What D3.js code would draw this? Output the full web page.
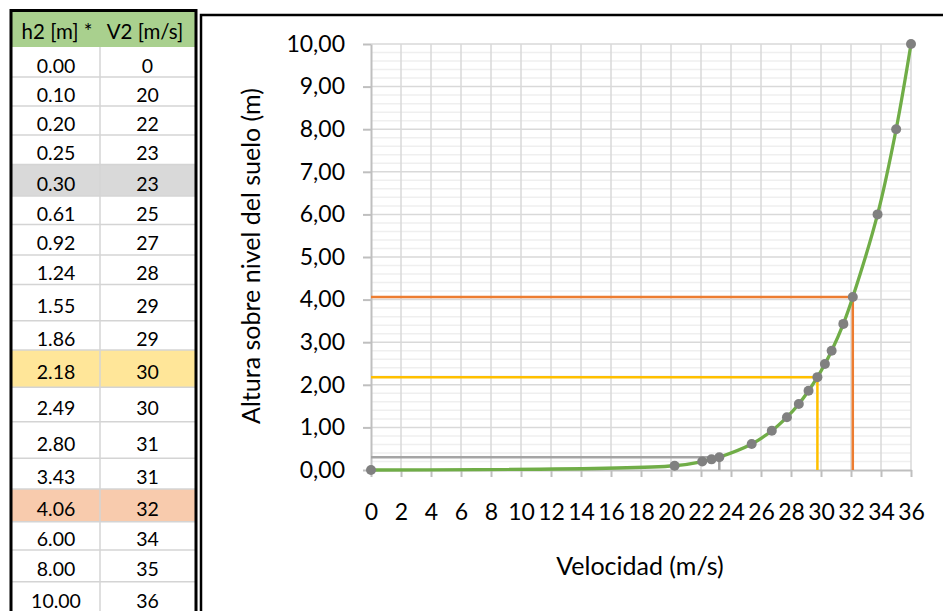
<!DOCTYPE html>
<html>
<head>
<meta charset="utf-8">
<script src="https://cdn.jsdelivr.net/npm/d3@7"></script>
<style>
body { margin: 0; background: #fff; }
text { font-family: Lato, "Open Sans", sans-serif; fill: #000; }
</style>
</head>
<body>
<div id="chart"></div>
<script>
var heights = [0, 0.10, 0.20, 0.25, 0.30, 0.61, 0.92, 1.24, 1.55, 1.86, 2.18, 2.49, 2.80, 3.43, 4.06, 6.00, 8.00, 10.00];
var speeds = [0, 20.24, 22.08, 22.70, 23.22, 25.38, 26.72, 27.73, 28.52, 29.17, 29.76, 30.26, 30.71, 31.49, 32.12, 33.77, 35.01, 36.00];
var tableSpeeds = [0, 20, 22, 23, 23, 25, 27, 28, 29, 29, 30, 30, 31, 31, 32, 34, 35, 36];
var headers = ["h2 [m] *", "V2 [m/s]"];

//guide lines (height, speed)
var guideHeights = [0.30, 2.18, 4.06];
var guideSpeeds = [23.22, 29.76, 32.12];

var xTicks = d3.range(0, 37, 2);
var yTicks = d3.range(0, 11, 1);

var xTitle = "Velocidad (m/s)";
var yTitle = "Altura sobre nivel del suelo (m)";

//layout / styles
var width = 943, height = 611;
var guideColors = ["#a5a5a5", "#ffc000", "#ed7d31"];
var rowFill = {4: "#d9d9d9", 10: "#ffe699", 14: "#f8cbad"};
var rowEdges = [12, 47, 77, 106, 135, 164.5, 196, 224.5, 255, 284.5, 320.7, 350, 387.3, 421.7, 458.3, 489, 521.7, 550, 581.7, 614];

var svg = d3.select("#chart").append("svg")
    .attr("width", width)
    .attr("height", height);

// ---------- table ----------
var table = svg.append("g");
var tLeft = 12, tMid = 100, tRight = 195;

table.append("rect")
    .attr("x", tLeft).attr("y", rowEdges[0])
    .attr("width", tRight - tLeft).attr("height", rowEdges[1] - rowEdges[0])
    .attr("fill", "#a9d08e");

heights.forEach(function(h, i) {
    var top = rowEdges[i + 1], bottom = rowEdges[i + 2];
    if (rowFill[i]) {
        table.append("rect")
            .attr("x", tLeft).attr("y", top)
            .attr("width", tRight - tLeft).attr("height", bottom - top)
            .attr("fill", rowFill[i]);
    }
    if (i > 0) {
        table.append("line")
            .attr("x1", tLeft).attr("x2", tRight)
            .attr("y1", top).attr("y2", top)
            .attr("stroke", "#d4d4d4").attr("stroke-width", 1.5);
    }
    var cy = (top + bottom) / 2 + 3;
    table.append("text")
        .attr("x", (tLeft + tMid) / 2).attr("y", cy)
        .attr("text-anchor", "middle").attr("dominant-baseline", "central")
        .style("font-size", "19.5px")
        .text(d3.format(".2f")(h));
    table.append("text")
        .attr("x", (tMid + tRight) / 2).attr("y", cy)
        .attr("text-anchor", "middle").attr("dominant-baseline", "central")
        .style("font-size", "19.5px")
        .text(tableSpeeds[i]);
});

table.append("line")
    .attr("x1", tMid).attr("x2", tMid)
    .attr("y1", rowEdges[1]).attr("y2", height)
    .attr("stroke", "#d4d4d4").attr("stroke-width", 1.5);

headers.forEach(function(t, i) {
    table.append("text")
        .attr("x", i == 0 ? 57 : 145).attr("y", 31)
        .attr("text-anchor", "middle").attr("dominant-baseline", "central")
        .style("font-size", "20.5px")
        .text(t);
});

table.append("path")
    .attr("d", "M" + (tLeft - 1) + " " + height + "V" + (rowEdges[0] - 1.5) + "H" + (tRight + 1) + "V" + height)
    .attr("fill", "none")
    .attr("stroke", "#000")
    .attr("stroke-width", 3);

// ---------- chart frame ----------
svg.append("path")
    .attr("d", "M201 " + height + "V15H" + width)
    .attr("fill", "none")
    .attr("stroke", "#000")
    .attr("stroke-width", 2.5);

var x = d3.scaleLinear().domain([0, 36]).range([371, 911]);
var y = d3.scaleLinear().domain([0, 10]).range([470, 44]);

//gridlines
var grid = svg.append("g");
grid.selectAll("line.minor")
    .data(d3.range(0, 50).map(function(i) { return i * 0.2; }).filter(function(v) { return Math.abs(v - Math.round(v)) > 0.01; }))
    .enter().append("line")
    .attr("class", "minor")
    .attr("x1", x(0)).attr("x2", x(36))
    .attr("y1", function(d) { return y(d); }).attr("y2", function(d) { return y(d); })
    .attr("stroke", "#efefef").attr("stroke-width", 1.5);
grid.selectAll("line.hmajor")
    .data(yTicks.slice(1))
    .enter().append("line")
    .attr("class", "hmajor")
    .attr("x1", x(0)).attr("x2", x(36))
    .attr("y1", function(d) { return y(d); }).attr("y2", function(d) { return y(d); })
    .attr("stroke", "#d9d9d9").attr("stroke-width", 1.5);
grid.selectAll("line.vmajor")
    .data(xTicks.slice(1))
    .enter().append("line")
    .attr("class", "vmajor")
    .attr("x1", function(d) { return x(d); }).attr("x2", function(d) { return x(d); })
    .attr("y1", y(0)).attr("y2", y(10))
    .attr("stroke", "#d9d9d9").attr("stroke-width", 1.5);

//axes
var yAxis = svg.append("g")
    .attr("transform", "translate(" + x(0) + ",0)")
    .call(d3.axisLeft(y).tickValues(yTicks).tickSize(8).tickSizeOuter(0).tickPadding(18)
        .tickFormat(function(d) { return d3.format(".2f")(d).replace(".", ","); }));
var xAxis = svg.append("g")
    .attr("transform", "translate(0," + y(0) + ")")
    .call(d3.axisBottom(x).tickValues(xTicks).tickSize(7).tickSizeOuter(0).tickPadding(27));

[xAxis, yAxis].forEach(function(a) {
    a.select(".domain").attr("stroke", "#bfbfbf").attr("stroke-width", 2);
    a.selectAll(".tick line").attr("stroke", "#bfbfbf").attr("stroke-width", 2);
    a.selectAll(".tick text")
        .attr("fill", "#000")
        .style("font-family", "Lato, sans-serif")
        .style("font-size", "23px");
});

//guide lines
guideHeights.forEach(function(h, i) {
    svg.append("path")
        .attr("d", "M" + x(0) + " " + y(h) + "H" + x(guideSpeeds[i]) + "V" + y(0))
        .attr("fill", "none")
        .attr("stroke", guideColors[i])
        .attr("stroke-width", 2.5);
});

//curve and markers
var pts = heights.map(function(h, i) { return [speeds[i], h]; });
var line = d3.line()
    .x(function(d) { return x(d[0]); })
    .y(function(d) { return y(d[1]); })
    .curve(d3.curveCatmullRom);

svg.append("path")
    .datum(pts)
    .attr("d", line)
    .attr("fill", "none")
    .attr("stroke", "#70ad47")
    .attr("stroke-width", 3.3)
    .style("stroke-linejoin", "round");

svg.selectAll("circle.pt")
    .data(pts)
    .enter().append("circle")
    .attr("class", "pt")
    .attr("cx", function(d) { return x(d[0]); })
    .attr("cy", function(d) { return y(d[1]); })
    .attr("r", 5)
    .attr("fill", "#808080");

//titles
svg.append("text")
    .attr("x", 640).attr("y", 575)
    .attr("text-anchor", "middle")
    .style("font-size", "25px")
    .text(xTitle);
svg.append("text")
    .attr("transform", "translate(260,256) rotate(-90)")
    .attr("text-anchor", "middle")
    .style("font-size", "25px")
    .text(yTitle);
</script>
</body>
</html>
